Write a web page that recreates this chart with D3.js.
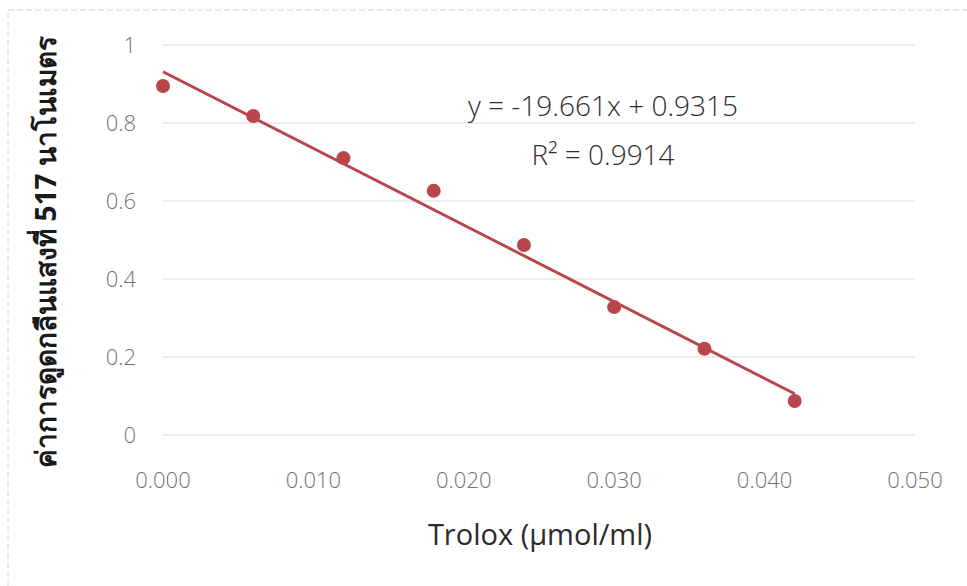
<!DOCTYPE html>
<html>
<head>
<meta charset="utf-8">
<script src="https://cdn.jsdelivr.net/npm/d3@7"></script>
<style>
  html, body { margin: 0; padding: 0; background: #fff; }
  svg { display: block; font-family: "Open Sans", "Noto Sans", sans-serif; }
  .grid line { stroke: #d9d9d9; stroke-width: 1; }
  .tick-label { fill: #727272; font-size: 22px; font-weight: 300; }
  .eq { fill: #2e2e2e; font-size: 28px; font-weight: 300; }
</style>
</head>
<body>
<svg id="chart" width="967" height="586"></svg>
<script>
// measured data: Trolox standard curve
const trolox = [0.000, 0.006, 0.012, 0.018, 0.024, 0.030, 0.036, 0.042];
const absorbance = [0.895, 0.818, 0.710, 0.626, 0.487, 0.328, 0.221, 0.087];

const xTicks = [0, 0.01, 0.02, 0.03, 0.04, 0.05];
const yTicks = [0, 0.2, 0.4, 0.6, 0.8, 1];

const slope = -19.661;
const intercept = 0.9315;
const rSquared = 0.9914;

const pointColor = "#b9464d";

const svg = d3.select("#chart");

const x = d3.scaleLinear().domain([0, 0.05]).range([163, 915]);
const y = d3.scaleLinear().domain([0, 1]).range([435, 45]);

// frame
svg.append("rect")
  .attr("x", 8).attr("y", 10)
  .attr("width", 975).attr("height", 600)
  .attr("fill", "none")
  .attr("stroke", "#d4d4d4")
  .attr("stroke-dasharray", "6,3");

// horizontal gridlines
svg.append("g").attr("class", "grid")
  .selectAll("line")
  .data(yTicks)
  .join("line")
  .attr("x1", x(0)).attr("x2", x(0.05))
  .attr("y1", (d) => y(d)).attr("y2", (d) => y(d));

// y tick labels
svg.append("g")
  .selectAll("text")
  .data(yTicks)
  .join("text")
  .attr("class", "tick-label")
  .attr("x", 136)
  .attr("y", (d) => y(d))
  .attr("dy", "0.35em")
  .attr("text-anchor", "end")
  .text((d) => (d === 0 || d === 1 ? String(d) : d3.format(".1f")(d)));

// x tick labels
svg.append("g")
  .selectAll("text")
  .data(xTicks)
  .join("text")
  .attr("class", "tick-label")
  .attr("x", (d) => x(d))
  .attr("y", 488)
  .attr("text-anchor", "middle")
  .text((d) => d3.format(".3f")(d));

// linear trendline over the data range
const xExtent = d3.extent(trolox);
svg.append("line")
  .attr("x1", x(xExtent[0])).attr("y1", y(slope * xExtent[0] + intercept))
  .attr("x2", x(xExtent[1])).attr("y2", y(slope * xExtent[1] + intercept))
  .attr("stroke", pointColor)
  .attr("stroke-width", 3);

// data points
svg.append("g")
  .selectAll("circle")
  .data(trolox.map((t, i) => ({ t, a: absorbance[i] })))
  .join("circle")
  .attr("cx", (d) => x(d.t))
  .attr("cy", (d) => y(d.a))
  .attr("r", 7)
  .attr("fill", pointColor);

// equation label
svg.append("text")
  .attr("class", "eq")
  .attr("x", 603).attr("y", 116)
  .attr("text-anchor", "middle")
  .text(`y = ${slope}x + ${intercept}`);

svg.append("text")
  .attr("class", "eq")
  .attr("x", 603).attr("y", 165)
  .attr("text-anchor", "middle")
  .text(`R² = ${rSquared}`);

// axis titles
svg.append("text")
  .attr("x", 540).attr("y", 545)
  .attr("text-anchor", "middle")
  .attr("fill", "#2b2b2b")
  .attr("font-size", 29)
  .text("Trolox (µmol/ml)");

svg.append("text")
  .attr("transform", "translate(56,252) rotate(-90)")
  .attr("text-anchor", "middle")
  .attr("fill", "#1a1a1a")
  .attr("font-size", 28)
  .attr("font-weight", "bold")
  .text("ค่าการดูดกลืนแสงที่ 517 นาโนเมตร");
</script>
</body>
</html>
